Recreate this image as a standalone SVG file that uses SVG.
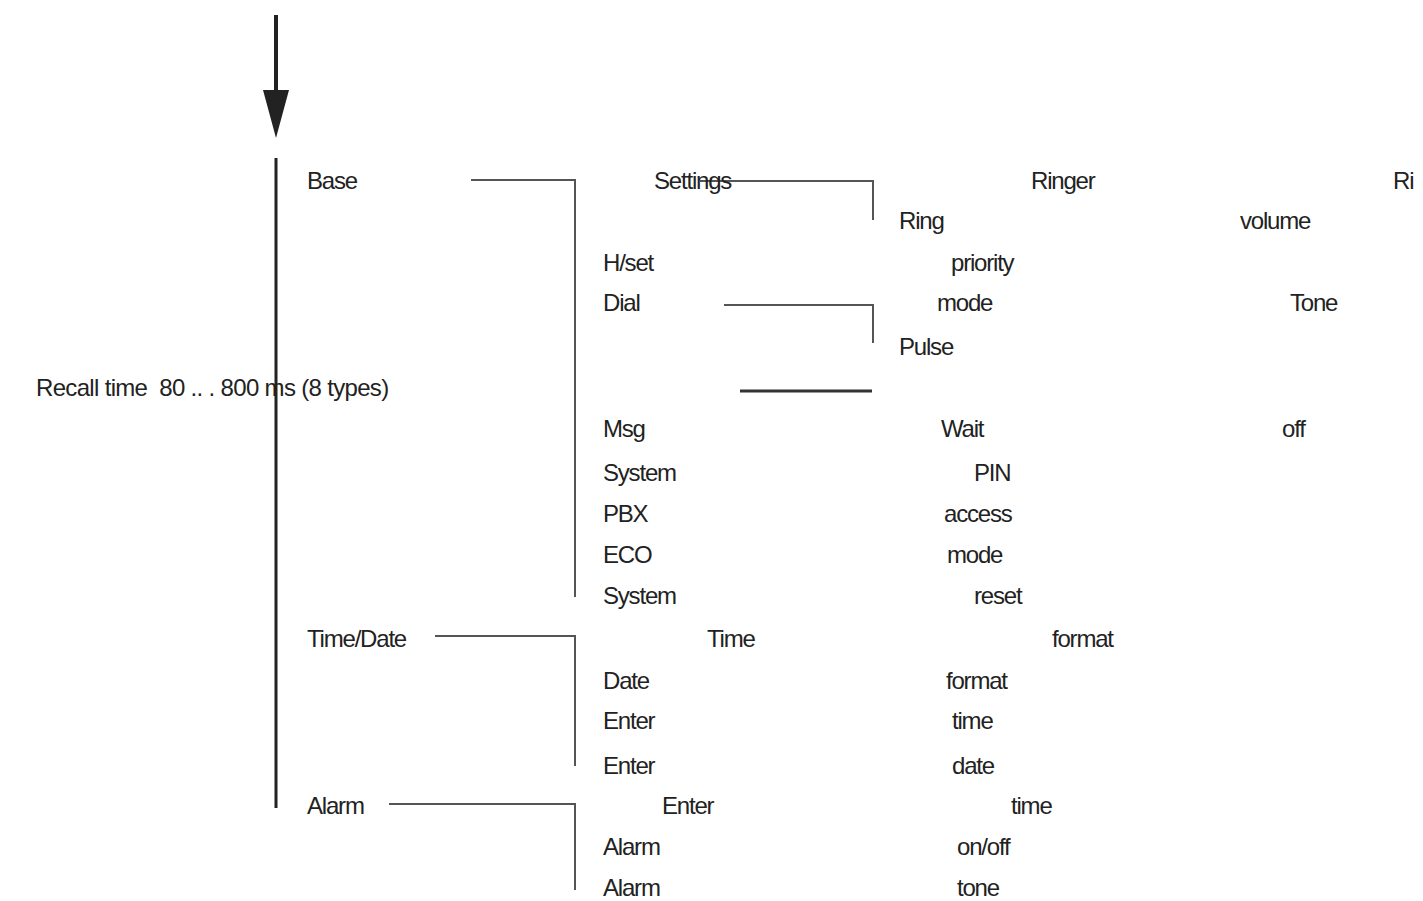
<svg xmlns="http://www.w3.org/2000/svg" width="1423" height="901" viewBox="0 0 1423 901">
<style>
text{font-family:"Liberation Sans",Arial,sans-serif;font-size:24px;letter-spacing:-1.2px;fill:#222;white-space:pre}
.c{fill:none;stroke:#555;stroke-width:2}
</style>
<rect width="1423" height="901" fill="#fff"/>
<g id="connectors">
<line x1="276" y1="15" x2="276" y2="95" stroke="#222" stroke-width="4"/>
<polygon points="263,90 289,90 276,138" fill="#222"/>
<line x1="276" y1="158" x2="276" y2="808" stroke="#222" stroke-width="3"/>
<polyline class="c" points="471,180 575,180 575,597"/>
<polyline class="c" points="700,181 873,181 873,220"/>
<polyline class="c" points="724,305 873,305 873,343"/>
<line x1="740" y1="391" x2="872" y2="391" stroke="#333" stroke-width="3"/>
<polyline class="c" points="435,636 575,636 575,766"/>
<polyline class="c" points="389,804 575,804 575,890"/>
</g>
<g id="n-base"><text x="307" y="189">Base</text></g>
<g id="n-settings"><text x="654" y="189">Settings</text></g>
<g id="n-ringer"><text x="1031" y="189">Ringer</text></g>
<g id="n-ri"><text x="1393" y="189">Ri</text></g>
<g id="n-ring"><text x="899" y="229">Ring</text></g>
<g id="n-volume"><text x="1240" y="229">volume</text></g>
<g id="n-hset"><text x="603" y="271">H/set</text></g>
<g id="n-priority"><text x="951" y="271">priority</text></g>
<g id="n-dial"><text x="603" y="311">Dial</text></g>
<g id="n-mode1"><text x="937" y="311">mode</text></g>
<g id="n-tone"><text x="1290" y="311">Tone</text></g>
<g id="n-pulse"><text x="899" y="355">Pulse</text></g>
<g id="n-recall"><text x="36" y="396" textLength="352" lengthAdjust="spacing">Recall time  80 .. . 800 ms (8 types)</text></g>
<g id="n-msg"><text x="603" y="437">Msg</text></g>
<g id="n-wait"><text x="941" y="437">Wait</text></g>
<g id="n-off"><text x="1282" y="437">off</text></g>
<g id="n-system1"><text x="603" y="481">System</text></g>
<g id="n-pin"><text x="974" y="481">PIN</text></g>
<g id="n-pbx"><text x="603" y="522">PBX</text></g>
<g id="n-access"><text x="944" y="522">access</text></g>
<g id="n-eco"><text x="603" y="563">ECO</text></g>
<g id="n-mode2"><text x="947" y="563">mode</text></g>
<g id="n-system2"><text x="603" y="604">System</text></g>
<g id="n-reset"><text x="974" y="604">reset</text></g>
<g id="n-timedate"><text x="307" y="647">Time/Date</text></g>
<g id="n-time1"><text x="707" y="647">Time</text></g>
<g id="n-format1"><text x="1052" y="647">format</text></g>
<g id="n-date"><text x="603" y="689">Date</text></g>
<g id="n-format2"><text x="946" y="689">format</text></g>
<g id="n-enter1"><text x="603" y="729">Enter</text></g>
<g id="n-time2"><text x="952" y="729">time</text></g>
<g id="n-enter2"><text x="603" y="774">Enter</text></g>
<g id="n-date2"><text x="952" y="774">date</text></g>
<g id="n-alarm"><text x="307" y="814">Alarm</text></g>
<g id="n-enter3"><text x="662" y="814">Enter</text></g>
<g id="n-time3"><text x="1011" y="814">time</text></g>
<g id="n-alarm1"><text x="603" y="855">Alarm</text></g>
<g id="n-onoff"><text x="957" y="855">on/off</text></g>
<g id="n-alarm2"><text x="603" y="896">Alarm</text></g>
<g id="n-tone2"><text x="957" y="896">tone</text></g>
</svg>
